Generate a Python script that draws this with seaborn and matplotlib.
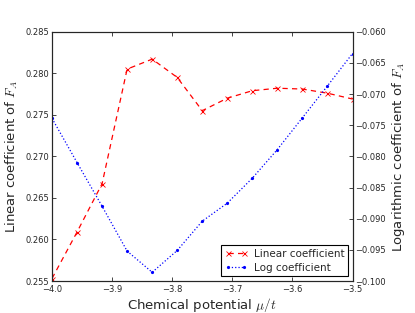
import numpy as np
import pandas as pd
import matplotlib
matplotlib.use('Agg')
import matplotlib.pyplot as plt
import seaborn as sns

# chemical potential grid (13 points from -4.0 to -3.5)
mu = [-4.0, -3.9583, -3.9167, -3.875, -3.8333, -3.7917, -3.75,
      -3.7083, -3.6667, -3.625, -3.5833, -3.5417, -3.5]
linear_coef = [0.2553, 0.2609, 0.2667, 0.2805, 0.2817, 0.2795, 0.2755,
               0.2770, 0.2779, 0.2782, 0.2781, 0.2776, 0.2769]
log_coef = [-0.0739, -0.0810, -0.0880, -0.0952, -0.0986, -0.0951, -0.0904,
            -0.0875, -0.0835, -0.0789, -0.0738, -0.0687, -0.0635]

x_ticks = [-4.0, -3.9, -3.8, -3.7, -3.6, -3.5]
lin_ticks = [0.255, 0.260, 0.265, 0.270, 0.275, 0.280, 0.285]
log_ticks = [-0.100, -0.095, -0.090, -0.085, -0.080, -0.075, -0.070, -0.065, -0.060]

sns.set_style('ticks')
plt.rcParams['mathtext.fontset'] = 'cm'
plt.rcParams['font.family'] = ['DejaVu Sans']
plt.rcParams['xtick.direction'] = 'in'
plt.rcParams['ytick.direction'] = 'in'
plt.rcParams['legend.numpoints'] = 2

df = pd.DataFrame({'mu': mu, 'lin': linear_coef, 'log': log_coef})

fig = plt.figure(figsize=(4.15, 3.13), dpi=100)
ax = fig.add_axes([0.1253, 0.1022, 0.7241, 0.7965])
ax2 = ax.twinx()

sns.lineplot(data=df, x='mu', y='lin', ax=ax, color='red', linestyle=(0, (4.2, 3.4)),
             marker='x', markersize=3.6, markeredgewidth=0.6, markeredgecolor='red',
             linewidth=0.9, label='Linear coefficient', legend=False)
sns.lineplot(data=df, x='mu', y='log', ax=ax2, color='blue', linestyle=':',
             marker='o', markersize=2.3, markeredgewidth=0, markeredgecolor='blue',
             linewidth=0.9, label='Log coefficient', legend=False)

ax.set_xlim(-4.0, -3.5)
ax.set_ylim(0.255, 0.285)
ax2.set_ylim(-0.100, -0.060)
ax.set_xticks(x_ticks)
ax.set_yticks(lin_ticks)
ax2.set_yticks(log_ticks)
ax.set_xticklabels([f'\u2212{abs(t):.1f}' for t in x_ticks])
ax.set_yticklabels([f'{t:.3f}' for t in lin_ticks])
ax2.set_yticklabels([f'\u2212{abs(t):.3f}' for t in log_ticks])

for a in (ax, ax2):
    a.tick_params(labelsize=6, length=3, width=0.6, pad=2)
    for s in a.spines.values():
        s.set_linewidth(0.8)
        s.set_visible(True)
ax.tick_params(axis='x', top=True, pad=3)

ax.set_xlabel(r'Chemical potential $\mu/t$', fontsize=9.5, labelpad=1)
ax.set_ylabel(r'Linear coefficient of $F_A$', fontsize=9.5, labelpad=4)
ax2.set_ylabel(r'Logarithmic coefficient of $F_A$', fontsize=9.5, labelpad=3)

h1, l1 = ax.get_legend_handles_labels()
h2, l2 = ax2.get_legend_handles_labels()
leg = ax2.legend(h1 + h2, l1 + l2, loc='lower right', fontsize=7.5,
                 fancybox=False, framealpha=1, edgecolor='black',
                 borderaxespad=0.45, handlelength=2.2, borderpad=0.35,
                 labelspacing=0.35, handletextpad=0.6, numpoints=2)
leg.get_frame().set_linewidth(0.8)

fig.savefig('out.png', dpi=100)
